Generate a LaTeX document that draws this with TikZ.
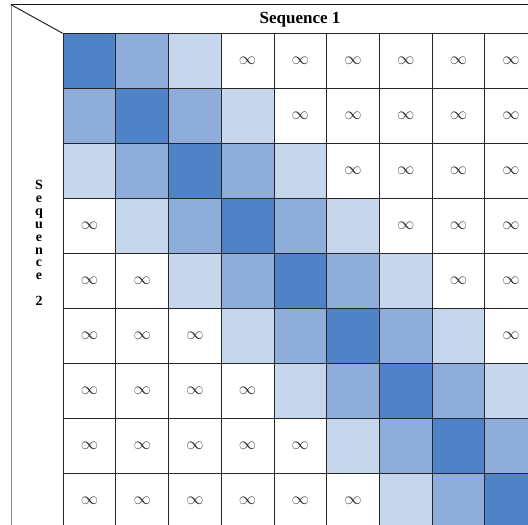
\documentclass[tikz,border=0pt]{standalone}
\usepackage{fontspec}
\setmainfont{Liberation Serif}
\usetikzlibrary{positioning}

\definecolor{diagblue}{RGB}{80,130,200}
\definecolor{nearblue}{RGB}{142,173,219}
\definecolor{farblue}{RGB}{198,215,237}

\begin{document}
\begin{tikzpicture}[x=1pt, y=-1pt,
  cell/.style={rectangle, draw=black!85, line width=0.9pt, minimum width=52.7pt, minimum height=55pt, inner sep=0pt, anchor=north west},
  infcell/.style={cell, fill=white, text=black!80, font=\fontsize{16}{16}\selectfont},
  frameline/.style={line width=1.4pt, black!90},
  sideline/.style={line width=0.8pt, black!45},
  headlabel/.style={font=\bfseries\fontsize{17}{17}\selectfont},
  sidelabel/.style={font=\bfseries\fontsize{14}{12.9}\selectfont, align=center, inner sep=0pt}
]
\useasboundingbox (0,0) rectangle (528,525);
\clip (0,0) rectangle (528,525);

% cost matrix cells
\foreach \r in {0,...,8} {
  \foreach \c in {0,...,8} {
    \pgfmathtruncatemacro\dist{abs(\r-\c)}
    \ifcase\dist
      \node[cell, fill=diagblue] (c-\r-\c) at ({62.7+52.7*\c},{33.3+55*\r}) {};
    \or
      \node[cell, fill=nearblue] (c-\r-\c) at ({62.7+52.7*\c},{33.3+55*\r}) {};
    \or
      \node[cell, fill=farblue] (c-\r-\c) at ({62.7+52.7*\c},{33.3+55*\r}) {};
    \else
      \node[infcell] (c-\r-\c) at ({62.7+52.7*\c},{33.3+55*\r}) {$\infty$};
    \fi
  }
}

% frame
\coordinate (corner) at (11,4.7);
\coordinate (topright) at (540,4.7);
\coordinate (bottomleft) at (11,540);
\draw[frameline] (corner) -- (topright);
\draw[sideline] (corner) -- (bottomleft);
\draw[line width=1pt, black!85] (corner) -- (c-0-0.north west);

% labels
\node[headlabel] (seqone) at (300,19.5) {Sequence 1};
\node[sidelabel] (seqtwo) at (39,243) {S\\e\\q\\u\\e\\n\\c\\e\\[12.9pt]2};

\end{tikzpicture}
\end{document}
